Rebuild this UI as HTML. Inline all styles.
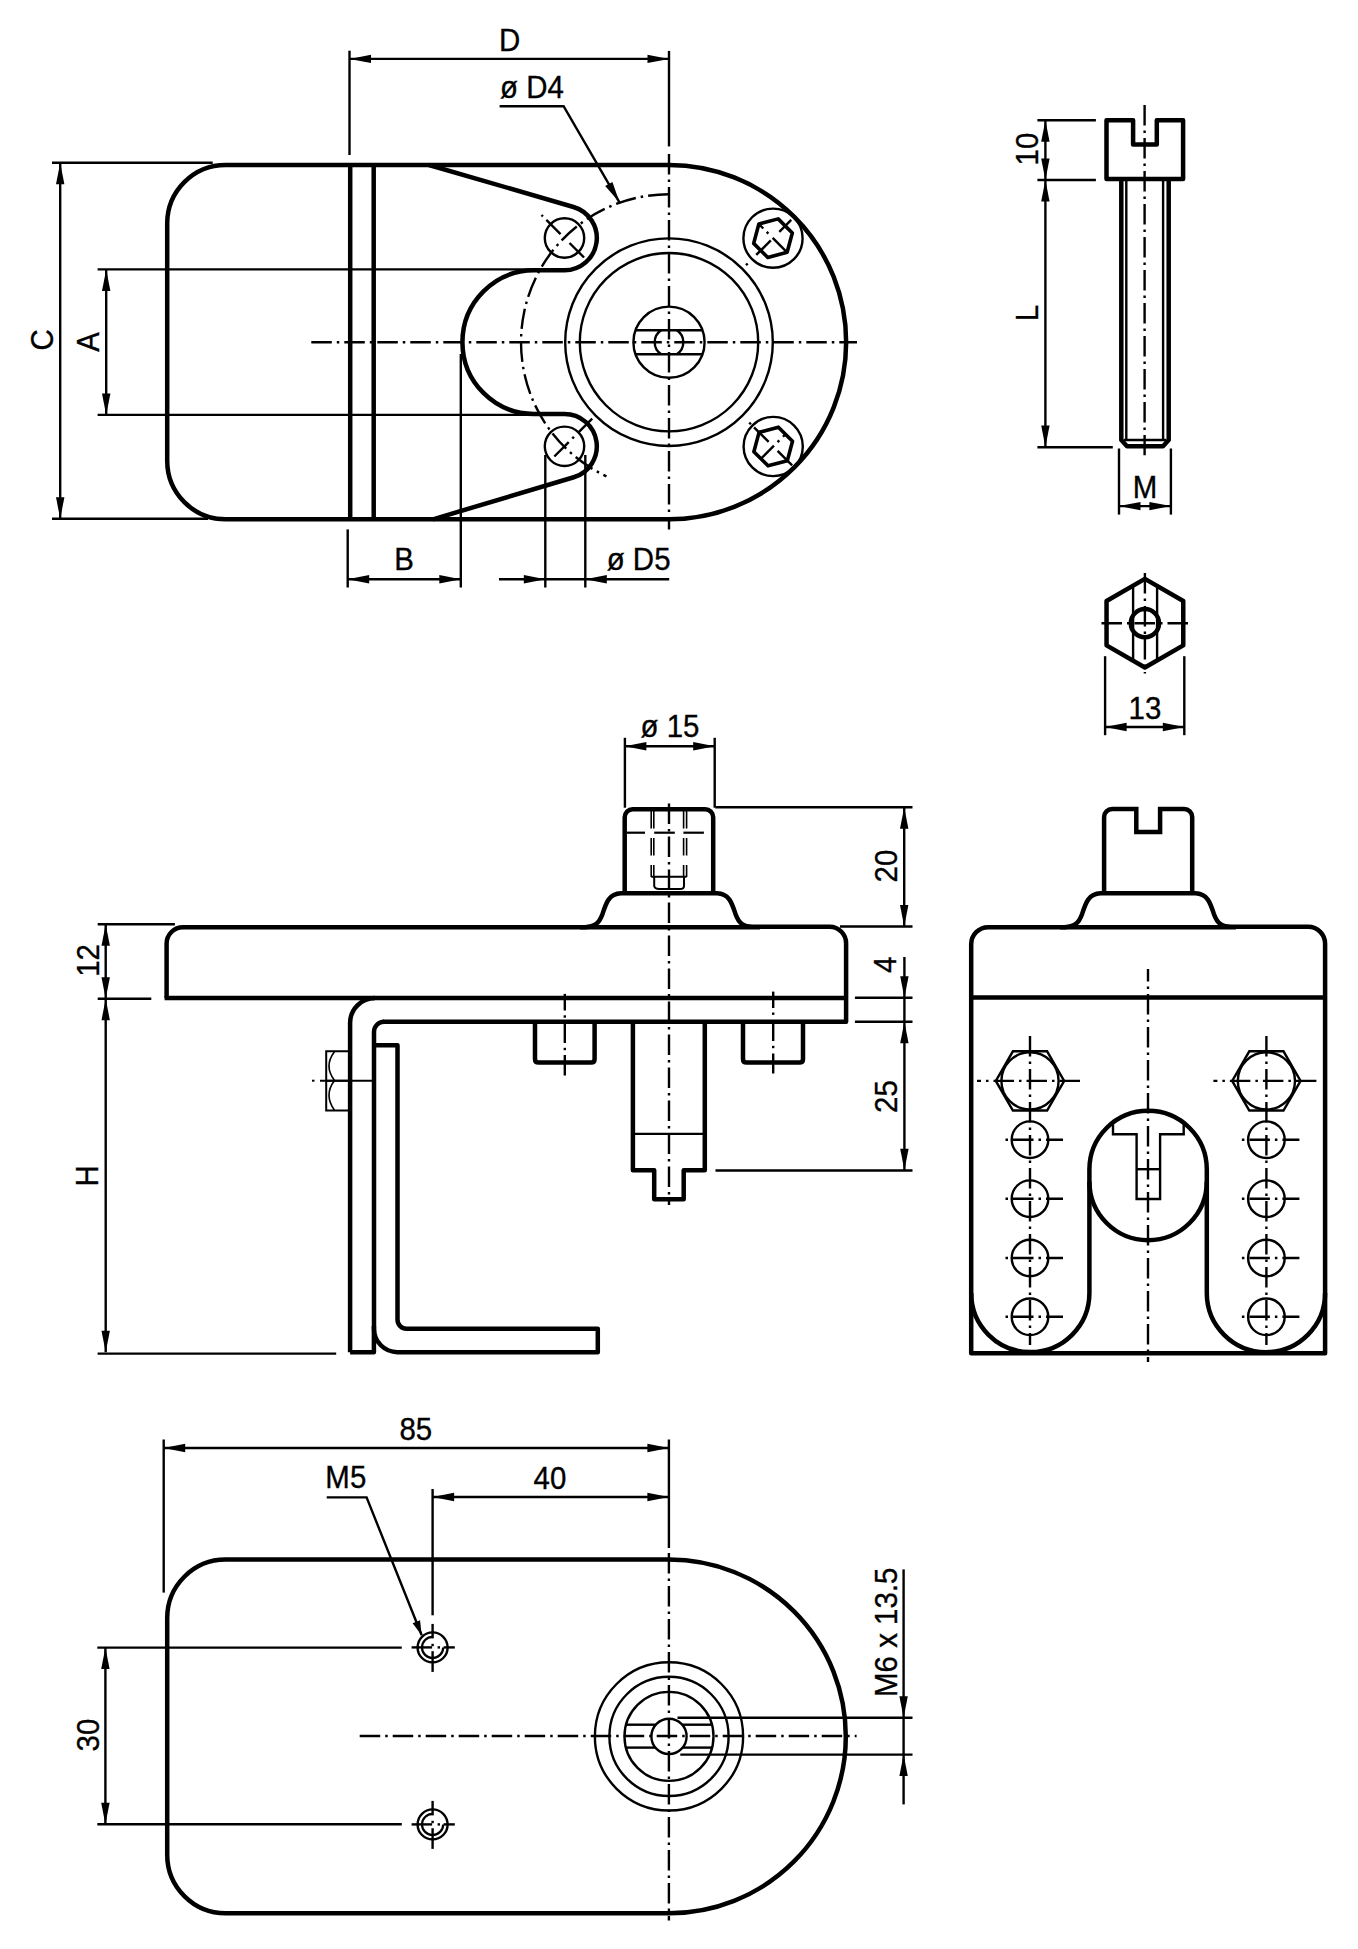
<!DOCTYPE html>
<html><head><meta charset="utf-8"><style>
html,body{margin:0;padding:0;background:#fff;width:1358px;height:1949px;overflow:hidden}
svg{display:block}
text{font-family:"Liberation Sans",sans-serif;fill:#000;stroke:#000;stroke-width:0.35px}
</style></head><body>
<svg width="1358" height="1949" viewBox="0 0 1358 1949" stroke-linecap="butt">
<rect width="1358" height="1949" fill="#fff"/>
<path d="M 669.0 165.0 H 225.7 A 58.5 58.5 0 0 0 167.2 223.5 V 460.79999999999995 A 58.5 58.5 0 0 0 225.7 519.3 H 669.0 A 177.0 177.0 0 0 0 669.0 165.0" fill="none" stroke="#000" stroke-width="4.5" />
<line x1="350.20" y1="165.00" x2="350.20" y2="519.30" stroke="#000" stroke-width="4.5" />
<line x1="373.70" y1="165.00" x2="373.70" y2="519.30" stroke="#000" stroke-width="4.5" />
<path d="M 429.0 165.0 L 573.51 206.98 A 32.3 32.3 0 0 1 564.5 270.30 H 534.25 A 71.850 71.850 0 0 0 534.25 414.00 H 564.5 A 32.3 32.3 0 0 1 573.75 477.25 L 433.0 519.3" fill="none" stroke="#000" stroke-width="4.5" />
<circle cx="564.50" cy="238.00" r="19.70" fill="none" stroke="#000" stroke-width="2.4" />
<circle cx="564.50" cy="446.30" r="19.70" fill="none" stroke="#000" stroke-width="2.4" />
<line x1="541.52" y1="215.02" x2="542.93" y2="216.43" stroke="#000" stroke-width="2.4" />
<line x1="546.33" y1="219.83" x2="560.54" y2="234.04" stroke="#000" stroke-width="2.4" />
<line x1="569.52" y1="243.02" x2="584.02" y2="257.52" stroke="#000" stroke-width="2.4" />
<line x1="554.32" y1="456.48" x2="568.74" y2="442.06" stroke="#000" stroke-width="2.4" />
<line x1="572.28" y1="438.52" x2="573.98" y2="436.82" stroke="#000" stroke-width="2.4" />
<line x1="579.00" y1="431.80" x2="592.22" y2="418.58" stroke="#000" stroke-width="2.4" />
<path d="M 668.5 194.20999999999998 A 148.0 148.0 0 0 0 606.45 476.33" fill="none" stroke="#000" stroke-width="2.4" stroke-dasharray="20.5 5 2.5 5"/>
<circle cx="669.00" cy="342.20" r="103.80" fill="none" stroke="#000" stroke-width="2.4" />
<circle cx="669.00" cy="342.20" r="89.20" fill="none" stroke="#000" stroke-width="2.4" />
<circle cx="669.00" cy="342.20" r="35.60" fill="none" stroke="#000" stroke-width="2.4" />
<line x1="635.48" y1="330.20" x2="702.52" y2="330.20" stroke="#000" stroke-width="2.4" />
<line x1="635.48" y1="354.20" x2="702.52" y2="354.20" stroke="#000" stroke-width="2.4" />
<path d="M 661.22 330.2 A 14.3 14.3 0 0 0 661.22 354.2 M 676.78 330.2 A 14.3 14.3 0 0 1 676.78 354.2" fill="none" stroke="#000" stroke-width="2.4" />
<circle cx="773.00" cy="238.20" r="29.60" fill="none" stroke="#000" stroke-width="2.4" />
<polygon points="758.86,224.06 778.18,218.88 792.32,233.02 787.14,252.34 767.82,257.52 753.68,243.38" fill="none" stroke="#000" stroke-width="3.6" stroke-linejoin="round"/>
<line x1="756.24" y1="254.96" x2="770.81" y2="240.39" stroke="#000" stroke-width="2.4" />
<line x1="779.29" y1="231.91" x2="791.24" y2="219.96" stroke="#000" stroke-width="2.4" />
<line x1="745.99" y1="265.21" x2="747.69" y2="263.51" stroke="#000" stroke-width="2.4" />
<line x1="760.06" y1="225.26" x2="763.31" y2="228.51" stroke="#000" stroke-width="2.4" />
<line x1="766.71" y1="231.91" x2="768.40" y2="233.60" stroke="#000" stroke-width="2.4" />
<line x1="772.65" y1="237.85" x2="786.36" y2="251.56" stroke="#000" stroke-width="2.4" />
<circle cx="773.20" cy="446.50" r="29.60" fill="none" stroke="#000" stroke-width="2.4" />
<polygon points="759.06,432.36 778.38,427.18 792.52,441.32 787.34,460.64 768.02,465.82 753.88,451.68" fill="none" stroke="#000" stroke-width="3.6" stroke-linejoin="round"/>
<line x1="761.82" y1="457.88" x2="773.98" y2="445.72" stroke="#000" stroke-width="2.4" />
<line x1="777.58" y1="442.12" x2="779.28" y2="440.42" stroke="#000" stroke-width="2.4" />
<line x1="782.96" y1="436.74" x2="784.66" y2="435.04" stroke="#000" stroke-width="2.4" />
<line x1="749.23" y1="422.53" x2="750.93" y2="424.23" stroke="#000" stroke-width="2.4" />
<line x1="754.04" y1="427.34" x2="768.67" y2="441.97" stroke="#000" stroke-width="2.4" />
<line x1="777.58" y1="450.88" x2="792.15" y2="465.45" stroke="#000" stroke-width="2.4" />
<line x1="311.30" y1="342.20" x2="857.00" y2="342.20" stroke="#000" stroke-width="2.4" stroke-dasharray="20.5 5 2.5 5" stroke-dashoffset="0"/>
<line x1="669.00" y1="50.90" x2="669.00" y2="146.40" stroke="#000" stroke-width="2.4" />
<line x1="669.00" y1="154.00" x2="669.00" y2="529.40" stroke="#000" stroke-width="2.4" stroke-dasharray="20.5 5 2.5 5" stroke-dashoffset="0"/>
<line x1="349.50" y1="50.70" x2="349.50" y2="155.00" stroke="#000" stroke-width="2.4" />
<line x1="349.50" y1="58.90" x2="669.00" y2="58.90" stroke="#000" stroke-width="2.4" />
<polygon points="349.50,58.90 371.00,54.70 371.00,63.10" fill="#000"/>
<polygon points="669.00,58.90 647.50,63.10 647.50,54.70" fill="#000"/>
<text transform="translate(509.5 50.8) scale(0.95 1)" font-size="31.0" text-anchor="middle">D</text>
<text transform="translate(532 97.6) scale(0.95 1)" font-size="31.0" text-anchor="middle">ø D4</text>
<path d="M 499.6 106.2 H 563.6 L 619.6 202.6" fill="none" stroke="#000" stroke-width="2.4" />
<polygon points="619.60,202.60 605.17,186.12 612.43,181.90" fill="#000"/>
<line x1="52.00" y1="162.80" x2="212.70" y2="162.80" stroke="#000" stroke-width="2.4" />
<line x1="52.00" y1="518.80" x2="208.00" y2="518.80" stroke="#000" stroke-width="2.4" />
<line x1="60.20" y1="162.80" x2="60.20" y2="518.80" stroke="#000" stroke-width="2.4" />
<polygon points="60.20,162.80 64.40,184.30 56.00,184.30" fill="#000"/>
<polygon points="60.20,518.80 56.00,497.30 64.40,497.30" fill="#000"/>
<text transform="translate(52.66 340.00) rotate(-90) scale(0.95 1)" font-size="31.0" text-anchor="middle">C</text>
<line x1="97.60" y1="269.40" x2="539.25" y2="269.40" stroke="#000" stroke-width="2.4" />
<line x1="97.60" y1="414.90" x2="539.25" y2="414.90" stroke="#000" stroke-width="2.4" />
<line x1="106.20" y1="269.40" x2="106.20" y2="414.90" stroke="#000" stroke-width="2.4" />
<polygon points="106.20,269.40 110.40,290.90 102.00,290.90" fill="#000"/>
<polygon points="106.20,414.90 102.00,393.40 110.40,393.40" fill="#000"/>
<text transform="translate(98.66 342.00) rotate(-90) scale(0.95 1)" font-size="31.0" text-anchor="middle">A</text>
<line x1="347.70" y1="529.40" x2="347.70" y2="587.50" stroke="#000" stroke-width="2.4" />
<line x1="460.80" y1="354.00" x2="460.80" y2="587.50" stroke="#000" stroke-width="2.4" />
<line x1="347.70" y1="579.30" x2="460.80" y2="579.30" stroke="#000" stroke-width="2.4" />
<polygon points="347.70,579.30 369.20,575.10 369.20,583.50" fill="#000"/>
<polygon points="460.80,579.30 439.30,583.50 439.30,575.10" fill="#000"/>
<text transform="translate(404.0 570.3) scale(0.95 1)" font-size="31.0" text-anchor="middle">B</text>
<line x1="545.30" y1="455.00" x2="545.30" y2="587.50" stroke="#000" stroke-width="2.4" />
<line x1="585.30" y1="455.00" x2="585.30" y2="587.50" stroke="#000" stroke-width="2.4" />
<line x1="499.00" y1="579.30" x2="669.20" y2="579.30" stroke="#000" stroke-width="2.4" />
<polygon points="545.30,579.30 523.80,583.50 523.80,575.10" fill="#000"/>
<polygon points="585.30,579.30 606.80,575.10 606.80,583.50" fill="#000"/>
<text transform="translate(638.6 570.3) scale(0.95 1)" font-size="31.0" text-anchor="middle">ø D5</text>
<path d="M 1106.5 120.3 H 1133.1 V 144.4 H 1156.8 V 120.3 H 1183.1 V 179.1 H 1106.5 Z" fill="none" stroke="#000" stroke-width="4.5" stroke-linejoin="round"/>
<path d="M 1121.3 179.1 V 440.0 L 1127.0 446.2 H 1163.0 L 1168.7 440.0 V 179.1" fill="none" stroke="#000" stroke-width="4.5" stroke-linejoin="round"/>
<line x1="1126.30" y1="179.10" x2="1126.30" y2="440.00" stroke="#000" stroke-width="2.4" />
<line x1="1163.10" y1="179.10" x2="1163.10" y2="440.00" stroke="#000" stroke-width="2.4" />
<line x1="1124.00" y1="440.00" x2="1166.00" y2="440.00" stroke="#000" stroke-width="2.4" />
<line x1="1144.60" y1="105.00" x2="1144.60" y2="455.30" stroke="#000" stroke-width="2.4" stroke-dasharray="20.5 5 2.5 5" stroke-dashoffset="0"/>
<line x1="1037.40" y1="120.30" x2="1095.90" y2="120.30" stroke="#000" stroke-width="2.4" />
<line x1="1037.40" y1="180.00" x2="1095.90" y2="180.00" stroke="#000" stroke-width="2.4" />
<line x1="1045.40" y1="120.30" x2="1045.40" y2="447.00" stroke="#000" stroke-width="2.4" />
<polygon points="1045.40,120.30 1049.60,141.80 1041.20,141.80" fill="#000"/>
<polygon points="1045.40,180.00 1041.20,158.50 1049.60,158.50" fill="#000"/>
<polygon points="1045.40,180.00 1049.60,201.50 1041.20,201.50" fill="#000"/>
<polygon points="1045.40,447.00 1041.20,425.50 1049.60,425.50" fill="#000"/>
<text transform="translate(1037.66 149.00) rotate(-90) scale(0.95 1)" font-size="31.0" text-anchor="middle">10</text>
<text transform="translate(1037.66 313.00) rotate(-90) scale(0.95 1)" font-size="31.0" text-anchor="middle">L</text>
<line x1="1037.40" y1="447.20" x2="1112.80" y2="447.20" stroke="#000" stroke-width="2.4" />
<line x1="1119.00" y1="448.50" x2="1119.00" y2="514.60" stroke="#000" stroke-width="2.4" />
<line x1="1170.90" y1="448.50" x2="1170.90" y2="514.60" stroke="#000" stroke-width="2.4" />
<line x1="1119.00" y1="506.10" x2="1170.90" y2="506.10" stroke="#000" stroke-width="2.4" />
<polygon points="1119.00,506.10 1140.50,501.90 1140.50,510.30" fill="#000"/>
<polygon points="1170.90,506.10 1149.40,510.30 1149.40,501.90" fill="#000"/>
<text transform="translate(1145.0 497.6) scale(0.95 1)" font-size="31.0" text-anchor="middle">M</text>
<polygon points="1144.90,578.90 1183.26,601.05 1183.26,645.35 1144.90,667.50 1106.54,645.35 1106.54,601.05" fill="none" stroke="#000" stroke-width="4.5" stroke-linejoin="round"/>
<line x1="1133.10" y1="585.71" x2="1133.10" y2="660.69" stroke="#000" stroke-width="2.4" />
<line x1="1157.10" y1="585.94" x2="1157.10" y2="660.46" stroke="#000" stroke-width="2.4" />
<circle cx="1144.90" cy="623.20" r="14.10" fill="none" stroke="#000" stroke-width="4.5" />
<line x1="1101.50" y1="623.20" x2="1188.20" y2="623.20" stroke="#000" stroke-width="2.4" stroke-dasharray="20.5 5 2.5 5" stroke-dashoffset="0"/>
<line x1="1144.90" y1="573.00" x2="1144.90" y2="673.40" stroke="#000" stroke-width="2.4" stroke-dasharray="20.5 5 2.5 5" stroke-dashoffset="0"/>
<line x1="1105.10" y1="656.20" x2="1105.10" y2="735.20" stroke="#000" stroke-width="2.4" />
<line x1="1184.30" y1="656.20" x2="1184.30" y2="735.20" stroke="#000" stroke-width="2.4" />
<line x1="1105.10" y1="727.00" x2="1184.30" y2="727.00" stroke="#000" stroke-width="2.4" />
<polygon points="1105.10,727.00 1126.60,722.80 1126.60,731.20" fill="#000"/>
<polygon points="1184.30,727.00 1162.80,731.20 1162.80,722.80" fill="#000"/>
<text transform="translate(1145.0 718.9) scale(0.95 1)" font-size="31.0" text-anchor="middle">13</text>
<path d="M 166.6 997.9 V 943.7 A 16.5 16.5 0 0 1 183.1 927.2 H 585.3 C 594 926.8 599 924 602.5 914 C 606 903 609 893.5 621 893.3 H 717 C 729 893.5 732 903 735.5 914 C 739 924 744 926.8 752.7 926.8 H 829.6 A 16.5 16.5 0 0 1 846.1 943.7 V 1021.8 H 383.0" fill="none" stroke="#000" stroke-width="4.5" stroke-linejoin="round"/>
<line x1="164.60" y1="997.90" x2="846.10" y2="997.90" stroke="#000" stroke-width="4.5" />
<line x1="580.00" y1="927.20" x2="760.00" y2="927.20" stroke="#000" stroke-width="4.5" />
<path d="M 624.7 893.1 V 817.2 A 8 8 0 0 1 632.7 809.2 H 705.2 A 8 8 0 0 1 713.2 817.2 V 893.1" fill="none" stroke="#000" stroke-width="4.5" />
<line x1="651.2" y1="811" x2="651.2" y2="877" stroke="#000" stroke-width="1.6" stroke-dasharray="17.5 9.5"/>
<line x1="653.8" y1="811" x2="653.8" y2="877" stroke="#000" stroke-width="1.6" stroke-dasharray="17.5 9.5"/>
<line x1="683.6" y1="811" x2="683.6" y2="877" stroke="#000" stroke-width="1.6" stroke-dasharray="17.5 9.5"/>
<line x1="686.6" y1="811" x2="686.6" y2="877" stroke="#000" stroke-width="1.6" stroke-dasharray="17.5 9.5"/>
<line x1="627.00" y1="832.70" x2="645.00" y2="832.70" stroke="#000" stroke-width="2.2" />
<line x1="654.20" y1="832.70" x2="674.80" y2="832.70" stroke="#000" stroke-width="2.2" />
<line x1="683.40" y1="832.70" x2="703.90" y2="832.70" stroke="#000" stroke-width="2.2" />
<line x1="651.20" y1="876.80" x2="686.60" y2="876.80" stroke="#000" stroke-width="2.0" />
<path d="M 654.2 876.8 V 886 Q 655 889 659 889 H 680 Q 684 889 684 886 V 876.8" fill="none" stroke="#000" stroke-width="2.0" />
<line x1="669.00" y1="803.50" x2="669.00" y2="1205.00" stroke="#000" stroke-width="2.4" stroke-dasharray="20.5 5 2.5 5" stroke-dashoffset="0"/>
<line x1="624.90" y1="737.80" x2="624.90" y2="807.70" stroke="#000" stroke-width="2.4" />
<line x1="714.70" y1="737.80" x2="714.70" y2="807.70" stroke="#000" stroke-width="2.4" />
<line x1="624.90" y1="746.20" x2="714.70" y2="746.20" stroke="#000" stroke-width="2.4" />
<polygon points="624.90,746.20 646.40,742.00 646.40,750.40" fill="#000"/>
<polygon points="714.70,746.20 693.20,750.40 693.20,742.00" fill="#000"/>
<text transform="translate(670.0 737.2) scale(0.95 1)" font-size="31.0" text-anchor="middle">ø 15</text>
<line x1="715.30" y1="807.20" x2="912.50" y2="807.20" stroke="#000" stroke-width="2.4" />
<line x1="840.00" y1="926.50" x2="912.50" y2="926.50" stroke="#000" stroke-width="2.4" />
<line x1="904.20" y1="807.20" x2="904.20" y2="926.50" stroke="#000" stroke-width="2.4" />
<polygon points="904.20,807.20 908.40,828.70 900.00,828.70" fill="#000"/>
<polygon points="904.20,926.50 900.00,905.00 908.40,905.00" fill="#000"/>
<text transform="translate(896.66 866.00) rotate(-90) scale(0.95 1)" font-size="31.0" text-anchor="middle">20</text>
<line x1="854.90" y1="997.80" x2="912.50" y2="997.80" stroke="#000" stroke-width="2.4" />
<line x1="854.90" y1="1021.80" x2="912.50" y2="1021.80" stroke="#000" stroke-width="2.4" />
<line x1="904.40" y1="957.00" x2="904.40" y2="1170.30" stroke="#000" stroke-width="2.4" />
<polygon points="904.40,997.80 900.20,976.30 908.60,976.30" fill="#000"/>
<polygon points="904.40,1021.80 908.60,1043.30 900.20,1043.30" fill="#000"/>
<polygon points="904.40,1170.30 900.20,1148.80 908.60,1148.80" fill="#000"/>
<text transform="translate(896.46 964.90) rotate(-90) scale(0.95 1)" font-size="31.0" text-anchor="middle">4</text>
<text transform="translate(897.16 1096.50) rotate(-90) scale(0.95 1)" font-size="31.0" text-anchor="middle">25</text>
<line x1="715.50" y1="1170.50" x2="912.50" y2="1170.50" stroke="#000" stroke-width="2.4" />
<line x1="97.70" y1="924.20" x2="174.90" y2="924.20" stroke="#000" stroke-width="2.4" />
<line x1="97.70" y1="998.70" x2="151.30" y2="998.70" stroke="#000" stroke-width="2.4" />
<line x1="105.70" y1="924.20" x2="105.70" y2="1352.30" stroke="#000" stroke-width="2.4" />
<polygon points="105.70,924.20 109.90,945.70 101.50,945.70" fill="#000"/>
<polygon points="105.70,998.70 101.50,977.20 109.90,977.20" fill="#000"/>
<polygon points="105.70,998.70 109.90,1020.20 101.50,1020.20" fill="#000"/>
<polygon points="105.70,1352.30 101.50,1330.80 109.90,1330.80" fill="#000"/>
<text transform="translate(98.66 960.40) rotate(-90) scale(0.95 1)" font-size="31.0" text-anchor="middle">12</text>
<text transform="translate(97.86 1176.00) rotate(-90) scale(0.95 1)" font-size="31.0" text-anchor="middle">H</text>
<line x1="97.60" y1="1353.60" x2="336.20" y2="1353.60" stroke="#000" stroke-width="2.4" />
<path d="M 350.1 1352.2 V 1023 A 25 25 0 0 1 375.1 998.0" fill="none" stroke="#000" stroke-width="4.5" />
<path d="M 350.1 1352.2 H 373.9 V 1326" fill="none" stroke="#000" stroke-width="4.5" stroke-linejoin="round"/>
<path d="M 384.0 1021.8 A 10 10 0 0 0 374.0 1031.8 V 1328.6 A 23.5 23.5 0 0 0 397.5 1352.2 H 597.8 V 1328.8 H 406.6 A 9 9 0 0 1 397.5 1319.8 V 1045.2 H 374.0" fill="none" stroke="#000" stroke-width="4.5" stroke-linejoin="round"/>
<path d="M 348 1051.3 H 326.2 V 1110.6 H 348 M 326.2 1080.7 H 348" fill="none" stroke="#000" stroke-width="2.0" />
<path d="M 334.5 1051.8 Q 323.5 1066 334.5 1080.5 Q 323.5 1095 334.5 1110.2" fill="none" stroke="#000" stroke-width="1.6" />
<line x1="312.00" y1="1080.70" x2="314.50" y2="1080.70" stroke="#000" stroke-width="2.0" />
<line x1="320.00" y1="1080.70" x2="372.20" y2="1080.70" stroke="#000" stroke-width="2.0" />
<path d="M 535 1021.8 V 1059 Q 535 1062.6 538.6 1062.6 H 591 Q 594.6 1062.6 594.6 1059 V 1021.8" fill="none" stroke="#000" stroke-width="4.5" />
<path d="M 743 1021.8 V 1059 Q 743 1062.6 746.6 1062.6 H 799.4 Q 803 1062.6 803 1059 V 1021.8" fill="none" stroke="#000" stroke-width="4.5" />
<line x1="564.80" y1="993.90" x2="564.80" y2="1010.50" stroke="#000" stroke-width="2.4" />
<line x1="564.80" y1="1015.30" x2="564.80" y2="1017.70" stroke="#000" stroke-width="2.4" />
<line x1="564.80" y1="1022.00" x2="564.80" y2="1043.00" stroke="#000" stroke-width="2.4" />
<line x1="564.80" y1="1047.80" x2="564.80" y2="1050.20" stroke="#000" stroke-width="2.4" />
<line x1="564.80" y1="1055.00" x2="564.80" y2="1075.50" stroke="#000" stroke-width="2.4" />
<line x1="773.20" y1="991.60" x2="773.20" y2="1008.00" stroke="#000" stroke-width="2.4" />
<line x1="773.20" y1="1012.50" x2="773.20" y2="1014.90" stroke="#000" stroke-width="2.4" />
<line x1="773.20" y1="1020.00" x2="773.20" y2="1041.00" stroke="#000" stroke-width="2.4" />
<line x1="773.20" y1="1045.80" x2="773.20" y2="1048.20" stroke="#000" stroke-width="2.4" />
<line x1="773.20" y1="1053.50" x2="773.20" y2="1073.50" stroke="#000" stroke-width="2.4" />
<path d="M 632.9 1021.8 V 1170.2 H 654.2 V 1199.3 H 683.7 V 1170.2 H 704.8 V 1021.8" fill="none" stroke="#000" stroke-width="4.5" stroke-linejoin="round"/>
<line x1="632.90" y1="1133.90" x2="704.80" y2="1133.90" stroke="#000" stroke-width="2.4" />
<path d="M 971.2 1353.2 V 944.2 A 17 17 0 0 1 988.2 927.2 H 1064.9 C 1073.6 926.8 1078.6 924 1082.1 914 C 1085.6 903 1088.6 893.5 1100.6 893.3 H 1195.4 C 1207.4 893.5 1210.4 903 1213.9 914 C 1217.4 924 1222.4 926.8 1231.1 926.8 H 1308.1 A 17 17 0 0 1 1325.1 944.2 V 1353.2 Z" fill="none" stroke="#000" stroke-width="4.5" stroke-linejoin="round"/>
<line x1="971.20" y1="997.60" x2="1325.10" y2="997.60" stroke="#000" stroke-width="4.5" />
<line x1="1060.00" y1="927.20" x2="1236.00" y2="927.20" stroke="#000" stroke-width="4.5" />
<path d="M 1104.1 892.5 V 817 A 8 8 0 0 1 1112.1 809 H 1136.3 V 832 H 1160.1 V 809 H 1184.2 A 8 8 0 0 1 1192.2 817 V 892.5" fill="none" stroke="#000" stroke-width="4.5" />
<line x1="1148.00" y1="969.00" x2="1148.00" y2="1362.00" stroke="#000" stroke-width="2.4" stroke-dasharray="20.5 5 2.5 5" stroke-dashoffset="8"/>
<path d="M 971.2 1293.0 A 59.0 59.0 0 0 0 1089.4 1293.0 V 1169.5 A 58.7 58.7 0 0 1 1206.8 1169.5 V 1293.0 A 59.0 59.0 0 0 0 1325.1 1293.0" fill="none" stroke="#000" stroke-width="4.5" />
<path d="M 1089.4 1181.5 A 58.7 58.7 0 0 0 1206.8 1181.5" fill="none" stroke="#000" stroke-width="4.5" />
<path d="M 1113 1124.5 V 1134.2 H 1136.6 V 1199 H 1160.1 V 1134.2 H 1183.7 V 1124.5" fill="none" stroke="#000" stroke-width="2.4" />
<line x1="1136.60" y1="1169.20" x2="1160.10" y2="1169.20" stroke="#000" stroke-width="2.4" />
<polygon points="1064.20,1080.90 1047.10,1110.52 1012.90,1110.52 995.80,1080.90 1012.90,1051.28 1047.10,1051.28" fill="none" stroke="#000" stroke-width="2.4"/>
<circle cx="1030.00" cy="1080.90" r="28.60" fill="none" stroke="#000" stroke-width="2.4" />
<line x1="1080.00" y1="1080.90" x2="977.00" y2="1080.90" stroke="#000" stroke-width="2.4" stroke-dasharray="20.5 5 2.5 5" stroke-dashoffset="0"/>
<line x1="1030.00" y1="1035.90" x2="1030.00" y2="1345.00" stroke="#000" stroke-width="2.4" stroke-dasharray="20.5 5 2.5 5" stroke-dashoffset="0"/>
<circle cx="1030.00" cy="1139.70" r="18.30" fill="none" stroke="#000" stroke-width="2.4" />
<line x1="1002.00" y1="1139.70" x2="1063.00" y2="1139.70" stroke="#000" stroke-width="2.4" stroke-dasharray="20.5 5 2.5 5" stroke-dashoffset="22"/>
<circle cx="1030.00" cy="1198.70" r="18.30" fill="none" stroke="#000" stroke-width="2.4" />
<line x1="1002.00" y1="1198.70" x2="1063.00" y2="1198.70" stroke="#000" stroke-width="2.4" stroke-dasharray="20.5 5 2.5 5" stroke-dashoffset="22"/>
<circle cx="1030.00" cy="1258.00" r="18.30" fill="none" stroke="#000" stroke-width="2.4" />
<line x1="1002.00" y1="1258.00" x2="1063.00" y2="1258.00" stroke="#000" stroke-width="2.4" stroke-dasharray="20.5 5 2.5 5" stroke-dashoffset="22"/>
<circle cx="1030.00" cy="1316.80" r="18.30" fill="none" stroke="#000" stroke-width="2.4" />
<line x1="1002.00" y1="1316.80" x2="1063.00" y2="1316.80" stroke="#000" stroke-width="2.4" stroke-dasharray="20.5 5 2.5 5" stroke-dashoffset="22"/>
<polygon points="1300.60,1080.90 1283.50,1110.52 1249.30,1110.52 1232.20,1080.90 1249.30,1051.28 1283.50,1051.28" fill="none" stroke="#000" stroke-width="2.4"/>
<circle cx="1266.40" cy="1080.90" r="28.60" fill="none" stroke="#000" stroke-width="2.4" />
<line x1="1316.40" y1="1080.90" x2="1213.40" y2="1080.90" stroke="#000" stroke-width="2.4" stroke-dasharray="20.5 5 2.5 5" stroke-dashoffset="0"/>
<line x1="1266.40" y1="1035.90" x2="1266.40" y2="1345.00" stroke="#000" stroke-width="2.4" stroke-dasharray="20.5 5 2.5 5" stroke-dashoffset="0"/>
<circle cx="1266.40" cy="1139.70" r="18.30" fill="none" stroke="#000" stroke-width="2.4" />
<line x1="1238.40" y1="1139.70" x2="1299.40" y2="1139.70" stroke="#000" stroke-width="2.4" stroke-dasharray="20.5 5 2.5 5" stroke-dashoffset="22"/>
<circle cx="1266.40" cy="1198.70" r="18.30" fill="none" stroke="#000" stroke-width="2.4" />
<line x1="1238.40" y1="1198.70" x2="1299.40" y2="1198.70" stroke="#000" stroke-width="2.4" stroke-dasharray="20.5 5 2.5 5" stroke-dashoffset="22"/>
<circle cx="1266.40" cy="1258.00" r="18.30" fill="none" stroke="#000" stroke-width="2.4" />
<line x1="1238.40" y1="1258.00" x2="1299.40" y2="1258.00" stroke="#000" stroke-width="2.4" stroke-dasharray="20.5 5 2.5 5" stroke-dashoffset="22"/>
<circle cx="1266.40" cy="1316.80" r="18.30" fill="none" stroke="#000" stroke-width="2.4" />
<line x1="1238.40" y1="1316.80" x2="1299.40" y2="1316.80" stroke="#000" stroke-width="2.4" stroke-dasharray="20.5 5 2.5 5" stroke-dashoffset="22"/>
<path d="M 669.0 1559.6 H 225.7 A 58.5 58.5 0 0 0 167.2 1618.1 V 1854.7 A 58.5 58.5 0 0 0 225.7 1913.2 H 669.0 A 176.8 176.8 0 0 0 669.0 1559.6" fill="none" stroke="#000" stroke-width="4.5" />
<line x1="163.70" y1="1439.50" x2="163.70" y2="1592.60" stroke="#000" stroke-width="2.4" />
<line x1="163.70" y1="1448.00" x2="668.90" y2="1448.00" stroke="#000" stroke-width="2.4" />
<polygon points="163.70,1448.00 185.20,1443.80 185.20,1452.20" fill="#000"/>
<polygon points="668.90,1448.00 647.40,1452.20 647.40,1443.80" fill="#000"/>
<text transform="translate(415.8 1439.5) scale(0.95 1)" font-size="31.0" text-anchor="middle">85</text>
<line x1="668.90" y1="1439.50" x2="668.90" y2="1548.00" stroke="#000" stroke-width="2.4" />
<line x1="668.90" y1="1553.00" x2="668.90" y2="1920.50" stroke="#000" stroke-width="2.4" stroke-dasharray="20.5 5 2.5 5" stroke-dashoffset="0"/>
<line x1="432.60" y1="1489.00" x2="432.60" y2="1615.30" stroke="#000" stroke-width="2.4" />
<line x1="432.60" y1="1497.00" x2="668.90" y2="1497.00" stroke="#000" stroke-width="2.4" />
<polygon points="432.60,1497.00 454.10,1492.80 454.10,1501.20" fill="#000"/>
<polygon points="668.90,1497.00 647.40,1501.20 647.40,1492.80" fill="#000"/>
<text transform="translate(550.0 1489.0) scale(0.95 1)" font-size="31.0" text-anchor="middle">40</text>
<text transform="translate(345.8 1488.0) scale(0.95 1)" font-size="31.0" text-anchor="middle">M5</text>
<path d="M 326.7 1497.4 H 366.6 L 421.7 1635.2" fill="none" stroke="#000" stroke-width="2.4" />
<polygon points="421.70,1635.20 412.60,1623.22 420.03,1620.25" fill="#000"/>
<circle cx="432.60" cy="1647.40" r="15.00" fill="none" stroke="#000" stroke-width="2.4" />
<path d="M 432.6 1636.8000000000002 A 10.6 10.6 0 1 0 443.20000000000005 1647.4" fill="none" stroke="#000" stroke-width="2.2"/>
<line x1="432.60" y1="1623.90" x2="432.60" y2="1638.40" stroke="#000" stroke-width="2.4" />
<line x1="432.60" y1="1643.80" x2="432.60" y2="1646.20" stroke="#000" stroke-width="2.4" />
<line x1="432.60" y1="1651.20" x2="432.60" y2="1671.90" stroke="#000" stroke-width="2.4" />
<line x1="411.60" y1="1647.40" x2="432.10" y2="1647.40" stroke="#000" stroke-width="2.4" />
<line x1="437.60" y1="1647.40" x2="440.00" y2="1647.40" stroke="#000" stroke-width="2.4" />
<line x1="443.60" y1="1647.40" x2="454.80" y2="1647.40" stroke="#000" stroke-width="2.4" />
<circle cx="432.60" cy="1824.40" r="15.00" fill="none" stroke="#000" stroke-width="2.4" />
<path d="M 432.6 1813.8000000000002 A 10.6 10.6 0 1 0 443.20000000000005 1824.4" fill="none" stroke="#000" stroke-width="2.2"/>
<line x1="432.60" y1="1800.90" x2="432.60" y2="1815.40" stroke="#000" stroke-width="2.4" />
<line x1="432.60" y1="1820.80" x2="432.60" y2="1823.20" stroke="#000" stroke-width="2.4" />
<line x1="432.60" y1="1828.20" x2="432.60" y2="1848.90" stroke="#000" stroke-width="2.4" />
<line x1="411.60" y1="1824.40" x2="432.10" y2="1824.40" stroke="#000" stroke-width="2.4" />
<line x1="437.60" y1="1824.40" x2="440.00" y2="1824.40" stroke="#000" stroke-width="2.4" />
<line x1="443.60" y1="1824.40" x2="454.80" y2="1824.40" stroke="#000" stroke-width="2.4" />
<line x1="97.30" y1="1647.60" x2="401.80" y2="1647.60" stroke="#000" stroke-width="2.4" />
<line x1="97.30" y1="1824.20" x2="401.80" y2="1824.20" stroke="#000" stroke-width="2.4" />
<line x1="105.40" y1="1647.60" x2="105.40" y2="1824.20" stroke="#000" stroke-width="2.4" />
<polygon points="105.40,1647.60 109.60,1669.10 101.20,1669.10" fill="#000"/>
<polygon points="105.40,1824.20 101.20,1802.70 109.60,1802.70" fill="#000"/>
<text transform="translate(98.66 1735.00) rotate(-90) scale(0.95 1)" font-size="31.0" text-anchor="middle">30</text>
<circle cx="669.00" cy="1736.40" r="74.10" fill="none" stroke="#000" stroke-width="2.4" />
<circle cx="669.00" cy="1736.40" r="59.60" fill="none" stroke="#000" stroke-width="2.4" />
<circle cx="669.00" cy="1736.40" r="44.50" fill="none" stroke="#000" stroke-width="2.4" />
<circle cx="669.00" cy="1736.40" r="17.60" fill="none" stroke="#000" stroke-width="2.4" />
<line x1="626.07" y1="1724.70" x2="655.85" y2="1724.70" stroke="#000" stroke-width="2.4" />
<line x1="682.15" y1="1724.70" x2="711.93" y2="1724.70" stroke="#000" stroke-width="2.4" />
<line x1="625.93" y1="1747.60" x2="655.42" y2="1747.60" stroke="#000" stroke-width="2.4" />
<line x1="682.58" y1="1747.60" x2="712.07" y2="1747.60" stroke="#000" stroke-width="2.4" />
<line x1="677.50" y1="1717.70" x2="912.50" y2="1717.70" stroke="#000" stroke-width="2.4" />
<line x1="680.30" y1="1754.60" x2="912.50" y2="1754.60" stroke="#000" stroke-width="2.4" />
<line x1="359.70" y1="1736.00" x2="856.60" y2="1736.00" stroke="#000" stroke-width="2.4" stroke-dasharray="20.5 5 2.5 5" stroke-dashoffset="0"/>
<line x1="903.60" y1="1569.40" x2="903.60" y2="1804.40" stroke="#000" stroke-width="2.4" />
<polygon points="903.60,1717.70 899.40,1696.20 907.80,1696.20" fill="#000"/>
<polygon points="903.60,1754.60 907.80,1776.10 899.40,1776.10" fill="#000"/>
<text transform="translate(896.66 1632.30) rotate(-90) scale(0.95 1)" font-size="31.0" text-anchor="middle">M6 x 13.5</text>
</svg></body></html>
